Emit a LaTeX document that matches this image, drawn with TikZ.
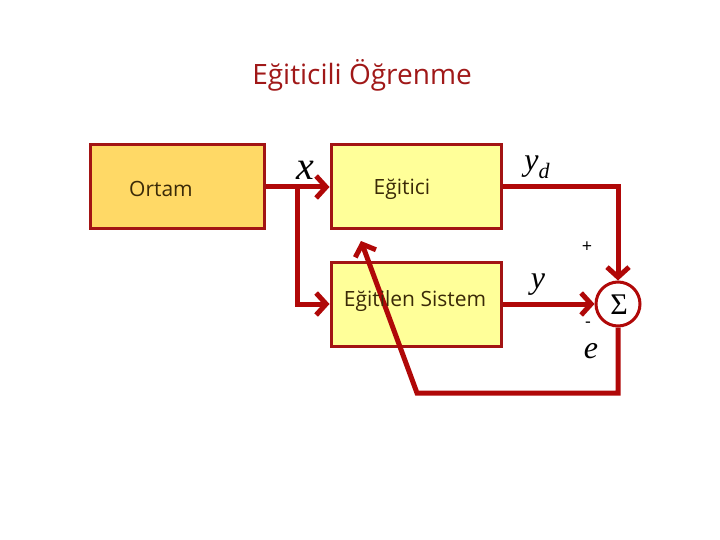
\documentclass[tikz,border=0pt]{standalone}
\usepackage{fontspec}
\setmainfont{Open Sans}
\newfontfamily\tms{Liberation Serif}
\usetikzlibrary{arrows.meta}
\definecolor{bord}{HTML}{A31414}
\definecolor{lred}{HTML}{B00808}
\definecolor{ortamfill}{HTML}{FFD966}
\definecolor{boxfill}{HTML}{FFFF99}
\definecolor{txt}{HTML}{3A2A08}
\definecolor{title}{HTML}{A01818}
\tikzset{
  blk/.style={draw=bord, line width=3pt, minimum width=170pt, minimum height=84pt, inner sep=0pt},
  conn/.style={draw=lred, line width=5pt, -{Straight Barb[length=10pt,width=22pt,line width=5pt]}},
  lbl/.style={text=txt, font=\fontsize{21}{24}\selectfont, inner sep=0pt},
  mth/.style={font=\tms\itshape\fontsize{32}{34}\selectfont, inner sep=0pt},
}
\begin{document}
\begin{tikzpicture}[x=1pt,y=-1pt]
\useasboundingbox (0,0) rectangle (720,540);
\node[text=title, font=\fontsize{28}{32}\selectfont] (ttl) at (362,75) {Eğiticili Öğrenme};
\node[blk, fill=ortamfill, minimum width=174pt] (ortam) at (177,187) {};
\node[blk, fill=boxfill] (egitici) at (416,187) {};
\node[blk, fill=boxfill] (sistem) at (416,304) {};
\node[circle, draw=lred, line width=3pt, fill=white, minimum size=44pt, inner sep=0pt] (sigma) at (618,304) {};
\node[font=\tms\fontsize{30}{32}\selectfont, inner sep=0pt] (sig) at (619,305) {Σ};
\node[lbl] (lortam) at (161,189) {Ortam};
\node[lbl] (legitici) at (402,189) {Eğitici};
\coordinate (br) at (297,187);
\draw[conn] (ortam.east) -- (egitici.west);
\draw[conn] (br) |- (sistem.west);
\draw[conn] (egitici.east) -| (sigma.north);
\draw[conn] (sistem.east) -- (sigma.west);
\coordinate (c1) at (417,393);
\coordinate (c2) at (361,241);
\draw[conn] (sigma.south) |- (c1) -- (c2);
\node[lbl] (lsistem) at (415,301) {Eğitilen Sistem};
\node[mth, font=\tms\itshape\fontsize{40}{42}\selectfont] (lx) at (305,170) {x};
\node[mth] (lyd) at (537,167) {y\raisebox{-8pt}{\fontsize{22}{24}\selectfont d}};
\node[mth] (ly) at (538,285) {y};
\node[mth] (le) at (591,351) {e};
\node[font=\fontsize{18}{20}\selectfont] (plus) at (587,247) {+};
\node[font=\fontsize{18}{20}\selectfont] (minus) at (588,325) {-};
\end{tikzpicture}
\end{document}
